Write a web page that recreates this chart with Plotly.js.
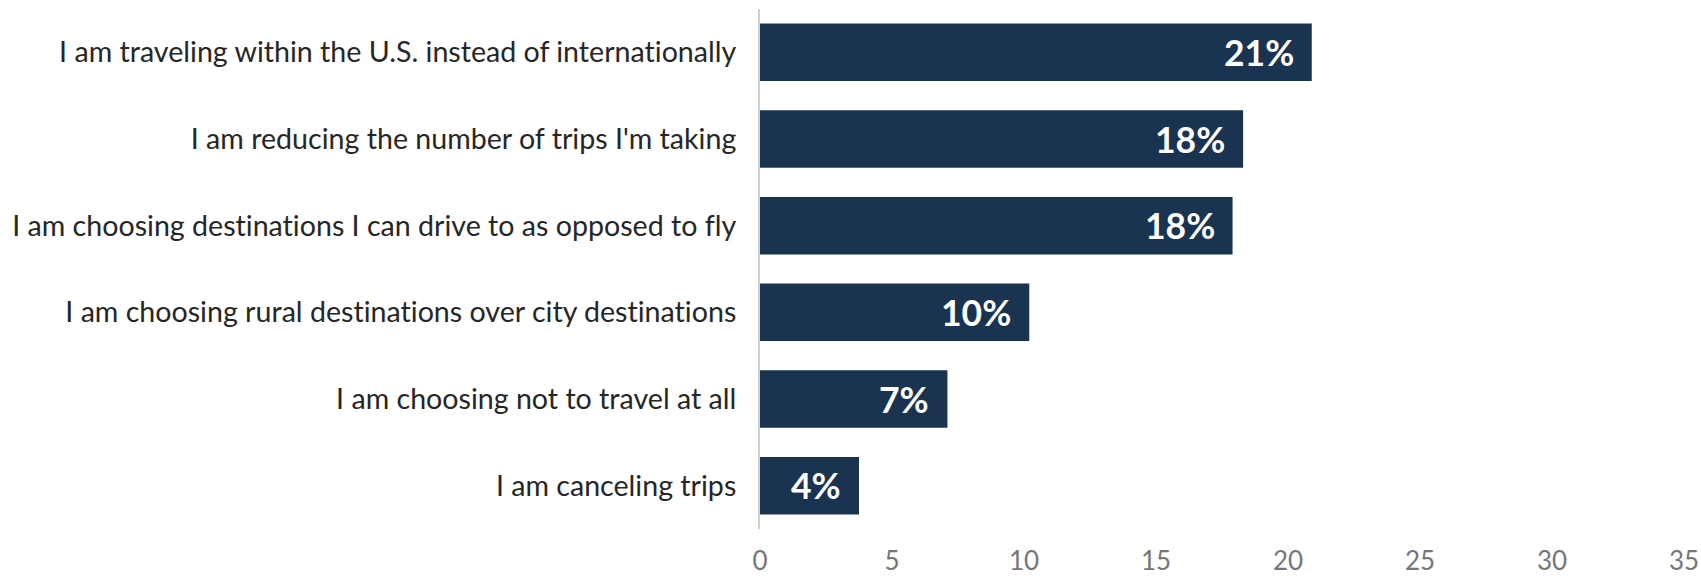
<!DOCTYPE html>
<html>
<head>
<meta charset="utf-8">
<script src="https://cdn.plot.ly/plotly-3.0.1.min.js"></script>
<style>html,body{margin:0;padding:0;background:#fff;}#chart{width:1701px;height:576px;}
#chart text{font-variant-ligatures:none;font-feature-settings:"liga" 0;}</style>
</head>
<body>
<div id="chart"></div>
<script>
const categories = [
  "I am traveling within the U.S. instead of internationally",
  "I am reducing the number of trips I'm taking",
  "I am choosing destinations I can drive to as opposed to fly",
  "I am choosing rural destinations over city destinations",
  "I am choosing not to travel at all",
  "I am canceling trips"
];
const values = [20.9, 18.3, 17.9, 10.2, 7.1, 3.75];
const valueLabels = ["21%", "18%", "18%", "10%", "7%", "4%"];
const tickVals = [0, 5, 10, 15, 20, 25, 30, 35];

const trace = {
  type: "bar",
  orientation: "h",
  y: categories,
  x: values,
  marker: {color: "#1a3350"},
  hoverinfo: "skip"
};

const annotations = categories.map((c, i) => ({
  x: values[i], y: c, xref: "x", yref: "y",
  text: "<b>" + valueLabels[i] + "</b>",
  showarrow: false, xanchor: "right", xshift: -16,
  font: {family: "Lato, sans-serif", size: 35.5, color: "#ffffff"}
}));

const layout = {
  width: 1701, height: 576,
  margin: {l: 760, r: 17, t: 9, b: 47},
  paper_bgcolor: "#ffffff", plot_bgcolor: "#ffffff",
  bargap: 0.336,
  showlegend: false,
  xaxis: {
    range: [0, 35], tickvals: tickVals, showgrid: false, zeroline: false,
    showline: false, ticks: "outside", ticklen: 9, tickcolor: "rgba(0,0,0,0)",
    tickfont: {family: "Lato, sans-serif", size: 26, color: "#767676"}
  },
  yaxis: {
    autorange: "reversed", showgrid: false, zeroline: false,
    showline: true, linecolor: "#d0d0d0", linewidth: 2,
    ticks: "outside", ticklen: 16, tickcolor: "rgba(0,0,0,0)",
    tickfont: {family: "Lato, sans-serif", size: 28.6, color: "#262626"}
  },
  annotations: annotations,
  font: {family: "Lato, sans-serif"}
};

Plotly.newPlot("chart", [trace], layout, {displayModeBar: false, staticPlot: true});
</script>
</body>
</html>
